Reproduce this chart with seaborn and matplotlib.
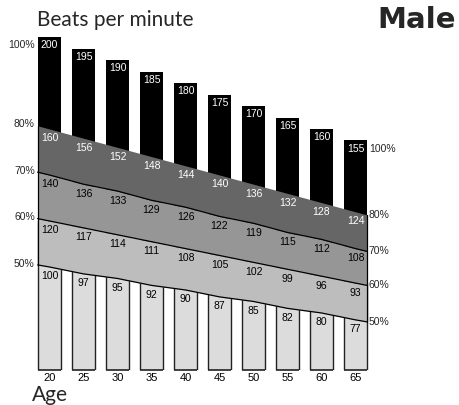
import numpy as np
import pandas as pd
import matplotlib
matplotlib.use("Agg")
import matplotlib.pyplot as plt
import seaborn as sns

# Heart-rate training zones for men, by age
ages = [20, 25, 30, 35, 40, 45, 50, 55, 60, 65]
max_hr = [200, 195, 190, 185, 180, 175, 170, 165, 160, 155]
zone_80 = [160, 156, 152, 148, 144, 140, 136, 132, 128, 124]
zone_70 = [140, 136, 133, 129, 126, 122, 119, 115, 112, 108]
zone_60 = [120, 117, 114, 111, 108, 105, 102, 99, 96, 93]
zone_50 = [100, 97, 95, 92, 90, 87, 85, 82, 80, 77]
zone_names = ["80%", "70%", "60%", "50%"]
top_name = "100%"

sns.set_theme(style="white")
plt.rcParams["font.family"] = ["Liberation Sans", "DejaVu Sans"]

W, H = 459, 405
fig = plt.figure(figsize=(W / 100, H / 100), dpi=100)
ax = fig.add_axes([32.5 / W, 35 / H, 340 / W, 350 / H])

BAR_W = 0.7
df = pd.DataFrame({"age": [str(a) for a in ages], "max": max_hr, "z60": zone_60})
order = df["age"].tolist()

# full-height black columns for maximum heart rate
sns.barplot(data=df, x="age", y="max", order=order, color="black", width=BAR_W,
            saturation=1, errorbar=None, linewidth=0, zorder=1, ax=ax)
# pale lower columns, their tops hidden under the zone bands
sns.barplot(data=df, x="age", y="z60", order=order, color="#dcdcdc", width=BAR_W,
            saturation=1, errorbar=None, edgecolor="#222222", linewidth=1,
            zorder=2, ax=ax)

n = len(ages)
xs = np.r_[-BAR_W / 2, np.arange(n), n - 1 + BAR_W / 2]


def edge_line(v):
    v = np.asarray(v, float)
    slope = (v[-1] - v[0]) / (len(v) - 1)
    return np.r_[v[0] - slope * BAR_W / 2, v, v[-1] + slope * BAR_W / 2]


zones = [zone_80, zone_70, zone_60, zone_50]
lines = [edge_line(z) for z in zones]
band_colors = ["#666666", "#969696", "#bdbdbd"]
for upper, lower, c in zip(lines[:-1], lines[1:], band_colors):
    ax.fill_between(xs, lower, upper, color=c, lw=0, zorder=3)
for ln in lines[1:]:
    ax.plot(xs, ln, color="black", lw=0.9, zorder=4)
ax.plot([xs[0], xs[0]], [lines[-1][0], lines[0][0]], color="black", lw=0.9, zorder=4)
ax.plot([xs[-1], xs[-1]], [lines[-1][-1], lines[0][-1]], color="black", lw=0.9, zorder=4)
# base edge under each pale column
ax.hlines([55.2] * n, np.arange(n) - BAR_W / 2, np.arange(n) + BAR_W / 2,
          color="#222222", lw=1.2, zorder=4, clip_on=False)

FS = 7.5
for i in range(n):
    ax.annotate(str(max_hr[i]), (i, max_hr[i]), xytext=(0, -2.5),
                textcoords="offset points", ha="center", va="top",
                color="white", fontsize=FS, zorder=5)
label_colors = ["white", "black", "black", "black"]
for z, c in zip(zones, label_colors):
    for i in range(n):
        ax.annotate(str(z[i]), (i, z[i]), xytext=(0, -3.2),
                    textcoords="offset points", ha="center", va="top",
                    color=c, fontsize=FS, zorder=5)

# percentage markers on both sides
ax.annotate(top_name, (xs[0], max_hr[0]), xytext=(-2, -2.5), textcoords="offset points",
            ha="right", va="top", fontsize=FS, annotation_clip=False)
ax.annotate(top_name, (xs[-1], max_hr[-1]), xytext=(1, -2.5), textcoords="offset points",
            ha="left", va="top", fontsize=FS, annotation_clip=False)
for name, ln in zip(zone_names, lines):
    ax.annotate(name, (xs[0], ln[0]), xytext=(-2, 1), textcoords="offset points",
                ha="right", va="center", fontsize=FS, annotation_clip=False)
    ax.annotate(name, (xs[-1], ln[-1]), xytext=(1, 0), textcoords="offset points",
                ha="left", va="center", fontsize=FS, annotation_clip=False)

ax.set_xlim(-0.5, n - 0.5)
ax.set_ylim(55.2, 207.4)
ax.set_xlabel("")
ax.set_ylabel("")
ax.set_yticks([])
ax.tick_params(axis="x", length=0, pad=2, labelsize=8, colors="black")
for s in ax.spines.values():
    s.set_visible(False)

fig.text(37 / W, 1 - 10 / H, "Beats per minute", ha="left", va="top",
         fontsize=15, family=["Lato", "DejaVu Sans"])
fig.text(456 / W, 1 - 6 / H, "Male", ha="right", va="top",
         fontsize=21, fontweight="bold", family=["DejaVu Sans"])
fig.text(32 / W, 1 - 385 / H, "Age", ha="left", va="top",
         fontsize=15, family=["Lato", "DejaVu Sans"])

fig.savefig("out.png", dpi=100)
